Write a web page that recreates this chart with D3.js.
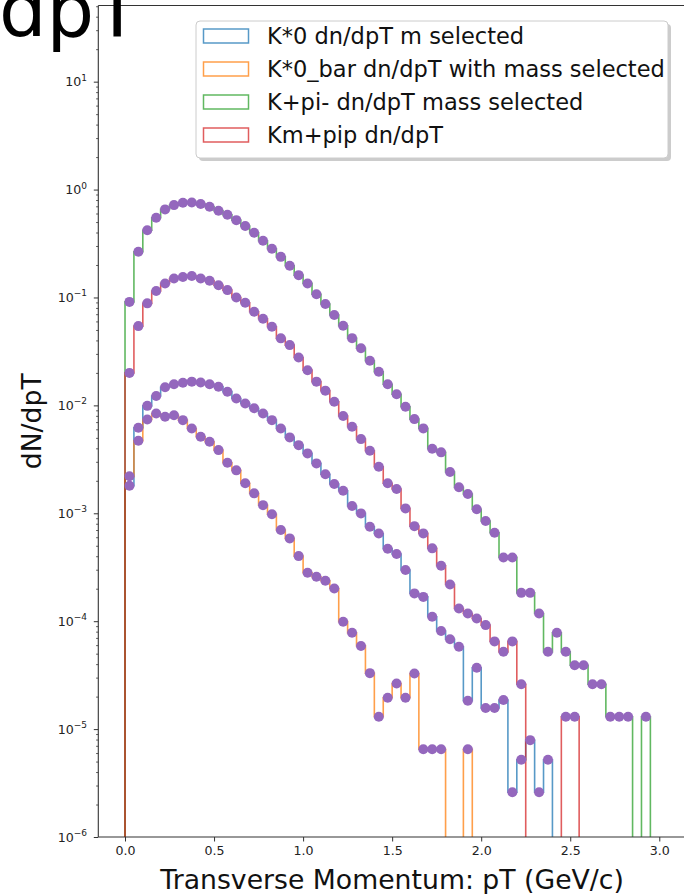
<!DOCTYPE html>
<html><head><meta charset="utf-8">
<script src="https://cdn.jsdelivr.net/npm/d3@7/dist/d3.min.js"></script>
<style>
body{margin:0;background:#fff}
svg{display:block}
text{font-family:"DejaVu Sans",sans-serif}
</style>
</head><body>
<svg id="c" width="684" height="894"></svg>
<script>
// ---------- data ----------
const seriesNames = ["K*0 dn/dpT m selected", "K*0_bar dn/dpT with mass selected", "K+pi- dn/dpT mass selected", "Km+pip dn/dpT"];
const seriesColors = ["#1f77b4", "#ff7f0e", "#2ca02c", "#d62728"];
const binStart = 0.0, binWidth = 0.05, binCount = 60;
const xTickValues = [0.0, 0.5, 1.0, 1.5, 2.0, 2.5, 3.0];
const yTickExponents = [-6, -5, -4, -3, -2, -1, 0, 1];

const k0Values = [0.0018, 0.0062, 0.0099, 0.0122, 0.0147, 0.0157, 0.0162, 0.0166, 0.0163, 0.0157,
  0.0149, 0.0134, 0.0116, 0.0104, 0.0094, 0.0084, 0.0073, 0.0061, 0.00505, 0.00428,
  0.00359, 0.0029, 0.0023, 0.00187, 0.00162, 0.00117, 0.000998, 0.00075, 0.00065, 0.00047,
  0.000419, 0.000298, 0.000181, 0.000168, 0.00011, 0.000081, 0.000068, 0.000058, 0.0000183, 0.000037,
  0.0000157, 0.0000157, 0.0000186, 0.0000026, 0.0000052, 0.0000079, 0.0000026, 0.0000052, 0, 0,
  0, 0, 0, 0, 0, 0, 0, 0, 0, 0];
const k0barValues = [0.0022, 0.0047, 0.0074, 0.0084, 0.00785, 0.0081, 0.0073, 0.0061, 0.00512, 0.0046,
  0.00385, 0.00294, 0.0025, 0.0019, 0.00153, 0.00119, 0.00098, 0.0007, 0.000585, 0.000401,
  0.000281, 0.000258, 0.000237, 0.000201, 0.000099, 0.000078, 0.000059, 0.000033, 0.000013, 0.0000195,
  0.0000265, 0.0000195, 0.0000328, 0.0000065, 0.0000065, 0.0000065, 0, 0, 0.0000065, 0,
  0, 0, 0, 0, 0, 0, 0, 0, 0, 0,
  0, 0, 0, 0, 0, 0, 0, 0, 0, 0];
const kpiValues = [0.091, 0.265, 0.42, 0.548, 0.655, 0.718, 0.755, 0.76, 0.734, 0.693,
  0.637, 0.584, 0.521, 0.459, 0.398, 0.336, 0.283, 0.238, 0.197, 0.161,
  0.135, 0.107, 0.0869, 0.0687, 0.0547, 0.042, 0.0338, 0.0259, 0.0205, 0.0157,
  0.0127, 0.0097, 0.00746, 0.00612, 0.00397, 0.00367, 0.00241, 0.00174, 0.00151, 0.00109,
  0.000847, 0.00066, 0.00039, 0.00039, 0.000183, 0.000183, 0.000118, 0.000052, 0.000078, 0.000052,
  0.000039, 0.000039, 0.000026, 0.000026, 0.000013, 0.000013, 0.000013, 0, 0.000013, 0];
const kmpipValues = [0.020, 0.0543, 0.0882, 0.115, 0.135, 0.150, 0.155, 0.158, 0.150, 0.143,
  0.130, 0.117, 0.100, 0.0893, 0.0737, 0.0635, 0.0535, 0.0418, 0.0362, 0.0278,
  0.0212, 0.0166, 0.0137, 0.0108, 0.00796, 0.00634, 0.00487, 0.0038, 0.0027, 0.0019,
  0.00168, 0.00111, 0.00076, 0.000651, 0.000473, 0.000326, 0.000219, 0.000131, 0.000118, 0.000106,
  0.000092, 0.000065, 0.000052, 0.000065, 0.000026, 0, 0, 0, 0, 0.000013,
  0.000013, 0, 0, 0, 0, 0, 0, 0, 0, 0];

const allSeries = [k0Values, k0barValues, kpiValues, kmpipValues];

// ---------- layout ----------
const svg = d3.select("#c");
const L = 98.3, R = 686, T = 5.5, B = 837;
const x = d3.scaleLinear().domain([-0.15, 3.15]).range([L, R]);
const y = d3.scaleLog().domain([1e-6, 50.8]).range([B, T]);

const edges = d3.range(binCount + 1).map(i => +(binStart + i * binWidth).toFixed(2));

svg.append("defs").append("clipPath").attr("id", "clip")
  .append("rect").attr("x", L).attr("y", T).attr("width", R - L).attr("height", B - T);

const plot = svg.append("g").attr("clip-path", "url(#clip)");
const yv = v => v > 0 ? y(v) : B + 20;

allSeries.forEach((vals, si) => {
  const pts = [[x(edges[0]), B + 20]];
  vals.forEach((v, k) => {
    pts.push([x(edges[k]), yv(v)]);
    pts.push([x(edges[k + 1]), yv(v)]);
  });
  pts.push([x(edges[binCount]), B + 20]);
  plot.append("path")
    .attr("d", d3.line()(pts))
    .attr("fill", "none")
    .attr("stroke", seriesColors[si])
    .attr("stroke-opacity", 0.75)
    .attr("stroke-width", 1.6);
});

allSeries.forEach(vals => {
  plot.selectAll(null)
    .data(vals.map((v, k) => ({v, c: (edges[k] + edges[k + 1]) / 2})).filter(d => d.v > 0))
    .enter().append("circle")
    .attr("cx", d => x(d.c))
    .attr("cy", d => y(d.v))
    .attr("r", 5)
    .attr("fill", "#9467bd");
});

// ---------- axes ----------
const axisColor = "#333";
const xAxis = svg.append("g").attr("transform", `translate(0,${B})`)
  .call(d3.axisBottom(x).tickValues(xTickValues).tickFormat(d3.format(".1f")).tickSize(4.5).tickPadding(5));
xAxis.select(".domain").remove();
xAxis.selectAll("line").attr("stroke", axisColor).attr("stroke-width", 1);
xAxis.selectAll("text").attr("font-size", 12.6).attr("fill", "#222").attr("font-family", "DejaVu Sans");

const majorVals = yTickExponents.map(e => Math.pow(10, e));
const minorVals = [];
for (let e = -6; e <= 1; e++) for (let m = 2; m <= 9; m++) { const v = m * Math.pow(10, e); if (v <= 50.8) minorVals.push(v); }

const yMinor = svg.append("g").attr("transform", `translate(${L},0)`)
  .call(d3.axisLeft(y).tickValues(minorVals).tickFormat("").tickSize(2.2));
yMinor.select(".domain").remove();
yMinor.selectAll("line").attr("stroke", axisColor).attr("stroke-width", 0.8);

const yMajor = svg.append("g").attr("transform", `translate(${L},0)`)
  .call(d3.axisLeft(y).tickValues(majorVals).tickFormat("").tickSize(4.5));
yMajor.select(".domain").remove();
yMajor.selectAll("line").attr("stroke", axisColor).attr("stroke-width", 1);

const yLabels = svg.append("g");
yTickExponents.forEach(e => {
  const t = yLabels.append("text")
    .attr("x", 87).attr("y", y(Math.pow(10, e)) + 4.5)
    .attr("text-anchor", "end").attr("font-size", 12.6).attr("fill", "#222");
  t.append("tspan").text("10");
  t.append("tspan").attr("dy", -5.5).attr("font-size", 9).text(e < 0 ? "\u2212" + (-e) : String(e));
});

// spines
svg.append("line").attr("x1", L).attr("x2", L).attr("y1", T).attr("y2", B).attr("stroke", axisColor).attr("stroke-width", 1.1);
svg.append("line").attr("x1", L).attr("x2", R).attr("y1", B).attr("y2", B).attr("stroke", axisColor).attr("stroke-width", 1.1);
svg.append("line").attr("x1", L).attr("x2", R).attr("y1", T).attr("y2", T).attr("stroke", axisColor).attr("stroke-width", 1.1);

// axis labels
svg.append("text").attr("x", (L + R) / 2).attr("y", 889).attr("text-anchor", "middle")
  .attr("font-size", 26.7).attr("fill", "#111").text("Transverse Momentum: pT (GeV/c)");
svg.append("text").attr("transform", `translate(41,${(T + B) / 2}) rotate(-90)`).attr("text-anchor", "middle")
  .attr("font-size", 26.7).attr("fill", "#111").text("dN/dpT");

// title (cropped at top-left in reference)
svg.append("text").attr("x", 140).attr("y", 36).attr("text-anchor", "end")
  .attr("font-size", 75).attr("fill", "#000").text("dN/dpT");

// ---------- legend ----------
const lg = svg.append("g");
const lx = 196, ly = 21, lw = 472, lh = 137;
lg.append("rect").attr("x", lx + 3).attr("y", ly + 3).attr("width", lw).attr("height", lh).attr("rx", 4)
  .attr("fill", "#999").attr("opacity", 0.5);
lg.append("rect").attr("x", lx).attr("y", ly).attr("width", lw).attr("height", lh).attr("rx", 4)
  .attr("fill", "#fff").attr("stroke", "#ccc").attr("stroke-width", 1);
seriesNames.forEach((name, i) => {
  const cy = 36 + i * 33;
  lg.append("rect").attr("x", 203.5).attr("y", cy - 7).attr("width", 45).attr("height", 14)
    .attr("fill", "none").attr("stroke", seriesColors[i]).attr("stroke-opacity", 0.75).attr("stroke-width", 1.5);
  lg.append("text").attr("x", 267).attr("y", cy + 8).attr("font-size", 22.5).attr("fill", "#111").text(name);
});
</script>
</body></html>
